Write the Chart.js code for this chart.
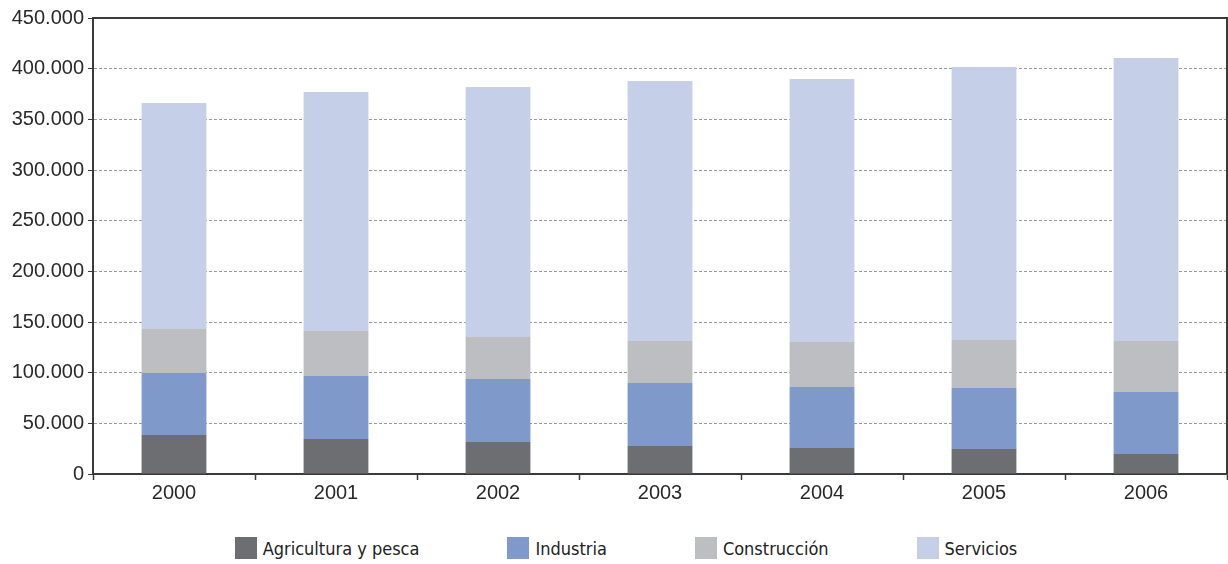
<!DOCTYPE html>
<html>
<head>
<meta charset="utf-8">
<script src="https://cdn.jsdelivr.net/npm/chart.js@4"></script>
<style>
  html, body { margin: 0; padding: 0; background: #fff; }
  #wrap { width: 1228px; height: 514px; position: relative; }
  #legend { width: 1228px; height: 50px; }
  #legend ul { list-style: none; margin: 0; padding: 23px 0 0 24px; display: flex; justify-content: center; }
  #legend li { display: flex; align-items: center; height: 22px; margin: 0 44px; }
  #legend .box { width: 22px; height: 22px; margin-right: 6px; }
  #legend .txt { font-family: 'Liberation Sans Narrow', 'DejaVu Sans Condensed', Roboto, sans-serif; font-size: 18px; color: #222; }
</style>
</head>
<body>
<div id="wrap"><canvas id="chart"></canvas></div>
<div id="legend"></div>
<script>
const years = ['2000', '2001', '2002', '2003', '2004', '2005', '2006'];
const agricultura = [38500, 34500, 31600, 27600, 25700, 24700, 19700];
const industria = [61200, 62200, 62100, 62200, 60200, 60200, 61200];
const construccion = [43400, 44400, 41500, 41400, 44400, 47300, 50300];
const servicios = [223000, 235900, 246700, 256600, 259500, 269400, 279300];
const yMax = 450000;
const yStep = 50000;

const axisColor = '#3a3a3a';

// top and right frame lines of the plot area
const framePlugin = {
    id: 'frame',
    afterDraw(chart) {
        const { ctx, chartArea } = chart;
        ctx.save();
        ctx.strokeStyle = axisColor;
        ctx.lineWidth = 2;
        ctx.beginPath();
        ctx.moveTo(chartArea.left, chartArea.top);
        ctx.lineTo(chartArea.right, chartArea.top);
        ctx.lineTo(chartArea.right, chartArea.bottom);
        ctx.stroke();
        ctx.restore();
    },
};

// legend built as html under the canvas
const htmlLegend = {
    id: 'htmlLegend',
    afterUpdate(chart) {
        const ul = document.createElement('ul');
        chart.data.datasets.forEach((ds) => {
            const li = document.createElement('li');
            const box = document.createElement('span');
            box.className = 'box';
            box.style.background = ds.backgroundColor;
            const txt = document.createElement('span');
            txt.className = 'txt';
            txt.textContent = ds.label;
            li.appendChild(box);
            li.appendChild(txt);
            ul.appendChild(li);
        });
        const el = document.getElementById('legend');
        el.innerHTML = '';
        el.appendChild(ul);
    },
};

const fmt = (v) => String(v).replace(/\B(?=(\d{3})+(?!\d))/g, '.');
const tickFont = { family: "'Liberation Sans', Arial, Helvetica, sans-serif", size: 20 };

const ctx = document.getElementById('chart').getContext('2d');
new Chart(ctx, {
    type: 'bar',
    data: {
        labels: years,
        datasets: [
            { label: 'Agricultura y pesca', data: agricultura, backgroundColor: '#6d6e72' },
            { label: 'Industria', data: industria, backgroundColor: '#7f99cb' },
            { label: 'Construcción', data: construccion, backgroundColor: '#bdbec2' },
            { label: 'Servicios', data: servicios, backgroundColor: '#c5cfe7' },
        ],
    },
    options: {
        responsive: true,
        maintainAspectRatio: false,
        animation: false,
        barPercentage: 0.4,
        categoryPercentage: 1,
        layout: {
            padding: { top: 18, right: 1, left: 0, bottom: 0 },
        },
        plugins: {
            legend: { display: false },
            tooltip: { enabled: false },
        },
        scales: {
            x: {
                stacked: true,
                grid: {
                    drawOnChartArea: false,
                    drawTicks: true,
                    tickLength: 6,
                    tickColor: axisColor,
                    tickWidth: 1.5,
                },
                border: { color: axisColor, width: 2 },
                ticks: {
                    color: '#2a2a2a',
                    padding: 1,
                    font: tickFont,
                },
                afterFit: (scale) => { scale.height = 40; },
            },
            y: {
                stacked: true,
                min: 0,
                max: yMax,
                grid: {
                    color: '#9a9a9a',
                    lineWidth: 1,
                    tickLength: 5,
                    tickColor: axisColor,
                },
                border: { color: axisColor, width: 2, dash: [3, 2] },
                ticks: {
                    stepSize: yStep,
                    color: '#2a2a2a',
                    padding: 4,
                    font: tickFont,
                    callback: (v) => fmt(v),
                },
                afterFit: (scale) => { scale.width = 93; },
            },
        },
    },
    plugins: [framePlugin, htmlLegend],
});
</script>
</body>
</html>
